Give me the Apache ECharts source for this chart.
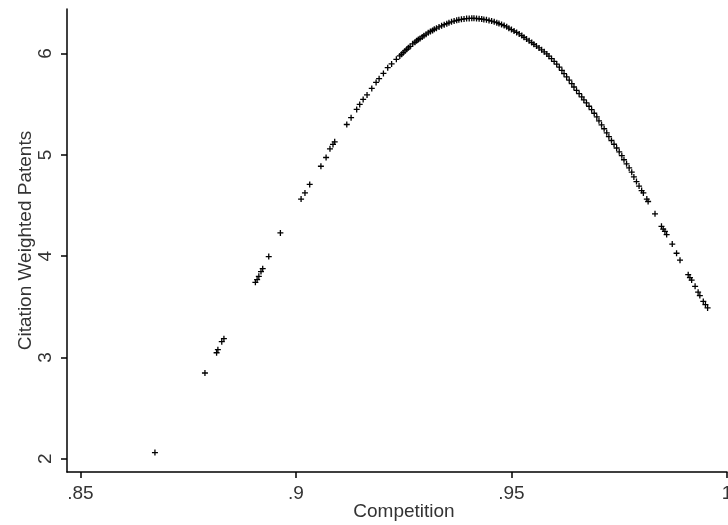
<!DOCTYPE html>
<html>
<head>
<meta charset="utf-8">
<script src="https://cdn.jsdelivr.net/npm/echarts@6/dist/echarts.min.js"></script>
<style>
    html, body { margin: 0; padding: 0; background: #fff; }
    #chart { width: 728px; height: 525px; }
</style>
</head>
<body>
<div id="chart"></div>
<script>
// values
const competition = [
    0.8673, 0.8789, 0.8816, 0.8819, 0.8828, 0.8833, 0.8906, 0.8910, 0.8914, 0.8919,
    0.8923, 0.8937, 0.8964, 0.9012, 0.9021, 0.9032, 0.9058, 0.9070, 0.9079, 0.9086,
    0.9090, 0.9118, 0.9128, 0.9141, 0.9148, 0.9156, 0.9165, 0.9176, 0.9186, 0.9193,
    0.9203, 0.9213, 0.9222, 0.9233, 0.9241, 0.9245, 0.9249, 0.9253, 0.9257, 0.9261,
    0.9265, 0.9271, 0.9276, 0.9280, 0.9284, 0.9288, 0.9293, 0.9297, 0.9302, 0.9307,
    0.9312, 0.9317, 0.9321, 0.9326, 0.9332, 0.9338, 0.9344, 0.9350, 0.9355, 0.9361,
    0.9367, 0.9373, 0.9378, 0.9384, 0.9390, 0.9396, 0.9402, 0.9408, 0.9413, 0.9419,
    0.9425, 0.9431, 0.9436, 0.9442, 0.9448, 0.9454, 0.9460, 0.9466, 0.9471, 0.9477,
    0.9483, 0.9489, 0.9494, 0.9500, 0.9506, 0.9512, 0.9518, 0.9524, 0.9529, 0.9535,
    0.9541, 0.9547, 0.9552, 0.9558, 0.9564, 0.9570, 0.9576, 0.9582, 0.9587, 0.9593,
    0.9599, 0.9605, 0.9611, 0.9617, 0.9622, 0.9628, 0.9634, 0.9640, 0.9645, 0.9651,
    0.9657, 0.9663, 0.9668, 0.9674, 0.9680, 0.9686, 0.9692, 0.9698, 0.9703, 0.9709,
    0.9715, 0.9721, 0.9726, 0.9732, 0.9738, 0.9744, 0.9750, 0.9756, 0.9761, 0.9767,
    0.9773, 0.9779, 0.9784, 0.9790, 0.9796, 0.9802, 0.9806, 0.9814, 0.9817, 0.9833,
    0.9848, 0.9852, 0.9856, 0.9860, 0.9873, 0.9883, 0.9891, 0.9910, 0.9914, 0.9918,
    0.9926, 0.9933, 0.9937, 0.9945, 0.9950, 0.9955
];
const citations = [
    2.062, 2.847, 3.047, 3.077, 3.156, 3.186, 3.742, 3.769, 3.801, 3.848,
    3.877, 3.996, 4.230, 4.564, 4.625, 4.708, 4.888, 4.974, 5.060, 5.103,
    5.129, 5.300, 5.367, 5.449, 5.498, 5.547, 5.592, 5.656, 5.715, 5.752,
    5.804, 5.861, 5.898, 5.943, 5.977, 5.993, 6.009, 6.026, 6.042, 6.057,
    6.071, 6.096, 6.112, 6.126, 6.139, 6.150, 6.164, 6.177, 6.192, 6.205,
    6.218, 6.229, 6.240, 6.251, 6.263, 6.274, 6.285, 6.295, 6.304, 6.313,
    6.321, 6.328, 6.333, 6.338, 6.342, 6.345, 6.347, 6.348, 6.348, 6.346,
    6.344, 6.341, 6.337, 6.333, 6.327, 6.321, 6.313, 6.305, 6.296, 6.287,
    6.276, 6.264, 6.251, 6.237, 6.223, 6.209, 6.194, 6.178, 6.161, 6.143,
    6.126, 6.109, 6.092, 6.074, 6.056, 6.037, 6.017, 5.997, 5.974, 5.950,
    5.924, 5.896, 5.866, 5.834, 5.802, 5.770, 5.737, 5.703, 5.670, 5.636,
    5.604, 5.572, 5.543, 5.513, 5.480, 5.446, 5.411, 5.375, 5.336, 5.297,
    5.258, 5.218, 5.180, 5.142, 5.105, 5.068, 5.030, 4.992, 4.952, 4.912,
    4.871, 4.829, 4.783, 4.737, 4.692, 4.648, 4.625, 4.564, 4.540, 4.418,
    4.295, 4.268, 4.246, 4.213, 4.120, 4.029, 3.961, 3.818, 3.789, 3.764,
    3.703, 3.645, 3.611, 3.554, 3.522, 3.489
];
const xTicks = [0.85, 0.9, 0.95, 1];
const yTicks = [2, 3, 4, 5, 6];

const font = 'Liberation Sans, Arial, sans-serif';
// small plus sign, like the Stata marker
const plus = 'path://M2.35,0H3.65V2.35H6V3.65H3.65V6H2.35V3.65H0V2.35H2.35Z';

let chart = echarts.init(document.getElementById('chart'));
let points = competition.map((x, i) => [x, citations[i]]);

chart.setOption({
    animation: false,
    backgroundColor: '#fff',
    grid: {
        left: 67,
        right: 1,
        top: 9,
        bottom: 53,
        containLabel: false,
        outerBoundsMode: 'none'
    },
    xAxis: {
        type: 'value',
        min: 0.8469,
        max: 1.0,
        name: 'Competition',
        nameLocation: 'middle',
        nameGap: 30,
        nameMoveOverlap: false,
        nameTextStyle: { fontFamily: font, fontSize: 19, color: '#333', padding: [0, 0, 0, 14] },
        axisLine: { show: true, lineStyle: { color: '#000', width: 1.5 } },
        axisTick: { show: true, length: 6, customValues: xTicks, lineStyle: { color: '#000', width: 1.5 } },
        axisLabel: {
            customValues: xTicks,
            margin: 12,
            fontFamily: font,
            fontSize: 19,
            color: '#333',
            formatter: v => String(v).replace(/^0/, '')
        },
        splitLine: { show: false }
    },
    yAxis: {
        type: 'value',
        min: 1.87,
        max: 6.44,
        name: 'Citation Weighted Patents',
        nameLocation: 'middle',
        nameGap: 32,
        nameMoveOverlap: false,
        nameTextStyle: { fontFamily: font, fontSize: 19, color: '#333' },
        axisLine: { show: true, lineStyle: { color: '#000', width: 1.5 } },
        axisTick: { show: true, length: 6, customValues: yTicks, lineStyle: { color: '#000', width: 1.5 } },
        axisLabel: {
            customValues: yTicks,
            rotate: 90,
            margin: 12,
            fontFamily: font,
            fontSize: 19,
            color: '#333'
        },
        splitLine: { show: false }
    },
    series: [
        {
            type: 'scatter',
            data: points,
            symbol: plus,
            symbolSize: 6,
            itemStyle: { color: '#000', opacity: 1 }
        }
    ]
});
</script>
</body>
</html>
